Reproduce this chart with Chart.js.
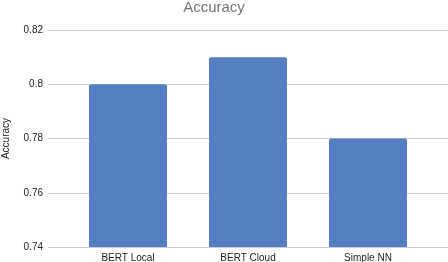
<!DOCTYPE html>
<html>
<head>
<meta charset="utf-8">
<script src="https://cdn.jsdelivr.net/npm/chart.js@4"></script>
<style>
  html, body { margin: 0; padding: 0; background: #fff; overflow: hidden; }
  canvas { display: block; }
</style>
</head>
<body>
<canvas id="grafico" width="448" height="262"></canvas>
<script>
// Datos
const categorias = ['BERT Local', 'BERT Cloud', 'Simple NN'];
const precision = [0.80, 0.81, 0.78];
const marcasY = [0.74, 0.76, 0.78, 0.80, 0.82];

Chart.defaults.font.family = '"Liberation Sans", Arial, sans-serif';

// Líneas de la cuadrícula que van de borde a borde (como en Sheets)
const cuadriculaAncha = {
    id: 'cuadriculaAncha',
    beforeDatasetsDraw(chart) {
        const { ctx, chartArea } = chart;
        const escala = chart.scales.y;
        ctx.save();
        ctx.strokeStyle = '#cccccc';
        ctx.lineWidth = 1;
        escala.ticks.forEach(t => {
            const y = Math.round(escala.getPixelForValue(t.value)) + 0.5;
            ctx.beginPath();
            ctx.moveTo(chartArea.left - 20, y);
            ctx.lineTo(chart.width, y);
            ctx.stroke();
        });
        ctx.restore();
    }
};

new Chart(document.getElementById('grafico'), {
    type: 'bar',
    data: {
        labels: categorias,
        datasets: [{
            label: 'Accuracy',
            data: precision,
            backgroundColor: '#557fc3',
            borderRadius: { topLeft: 2, topRight: 2 },
            borderSkipped: 'bottom',
            barPercentage: 0.65,
            categoryPercentage: 1
        }]
    },
    options: {
        responsive: false,
        animation: false,
        layout: { padding: { left: 0, right: 20, top: 0, bottom: 0 } },
        plugins: {
            legend: { display: false },
            tooltip: { enabled: false },
            title: {
                display: true,
                text: 'Accuracy',
                color: '#757575',
                font: { size: 15, weight: 'normal' },
                padding: { top: -1, bottom: 13 }
            }
        },
        scales: {
            x: {
                grid: { display: false, drawTicks: false },
                border: { display: false },
                ticks: { color: '#222', font: { size: 10 }, padding: 5 },
                afterFit: s => { s.height = 15; }
            },
            y: {
                min: 0.74,
                max: 0.82,
                afterBuildTicks: s => { s.ticks = marcasY.map(v => ({ value: v })); },
                grid: { display: false, drawTicks: false },
                border: { display: false },
                ticks: {
                    color: '#222',
                    font: { size: 10 },
                    padding: 25,
                    callback: v => String(Number(v.toFixed(2)))
                },
                title: {
                    display: true,
                    text: 'Accuracy',
                    color: '#222',
                    font: { size: 10 },
                    padding: 0
                },
                // ancho fijo y sin relleno extra arriba/abajo
                afterFit: s => { s.width = 68; s.paddingTop = 0; s.paddingBottom = 0; }
            }
        }
    },
    plugins: [cuadriculaAncha]
});
</script>
</body>
</html>
